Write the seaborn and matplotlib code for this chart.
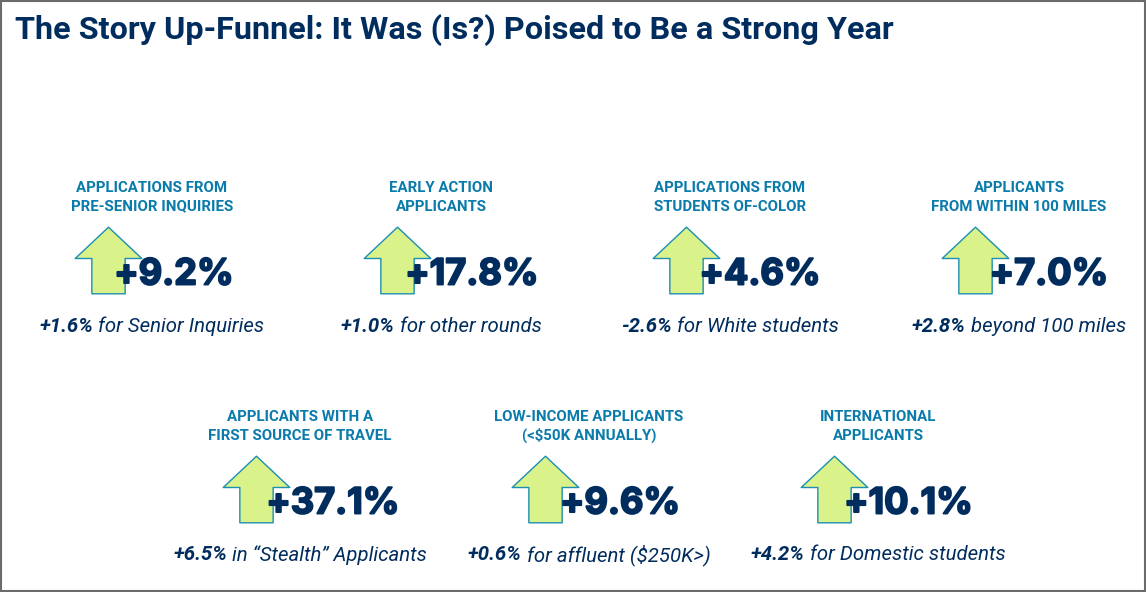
import matplotlib.patheffects as pe
import matplotlib.pyplot as plt
import pandas as pd
import seaborn as sns
from matplotlib.path import Path
from matplotlib.patches import Rectangle

TITLE = "The Story Up-Funnel: It Was (Is?) Poised to Be a Strong Year"

headers = [
    "APPLICATIONS FROM\nPRE-SENIOR INQUIRIES",
    "EARLY ACTION\nAPPLICANTS",
    "APPLICATIONS FROM\nSTUDENTS OF-COLOR",
    "APPLICANTS\nFROM WITHIN 100 MILES",
    "APPLICANTS WITH A\nFIRST SOURCE OF TRAVEL",
    "LOW-INCOME APPLICANTS\n(<$50K ANNUALLY)",
    "INTERNATIONAL\nAPPLICANTS",
]
changes = ["+9.2%", "+17.8%", "+4.6%", "+7.0%", "+37.1%", "+9.6%", "+10.1%"]
compare_values = ["+1.6%", "+1.0%", "-2.6%", "+2.8%", "+6.5%", "+0.6%", "+4.2%"]
compare_labels = [
    "for Senior Inquiries",
    "for other rounds",
    "for White students",
    "beyond 100 miles",
    "in \u201cStealth\u201d Applicants",
    "for affluent ($250K>)",
    "for Domestic students",
]

NAVY = "#012d5e"
BLUE = "#0a7bab"
LIME = "#d9f28a"
EDGE = "#1c8fb3"

# card layout, in pixels of the 1146x592 canvas
row_of_card = [0, 0, 0, 0, 1, 1, 1]
col_of_card = [0, 1, 2, 3, 0, 1, 2]
change_offset = [22, 31, 30, 30, 33, 31, 30.5]
ARROW = Path(
    [(0, 1), (1, 0.06), (0.5, 0.06), (0.5, -1), (-0.5, -1), (-0.5, 0.06), (-1, 0.06), (0, 1)],
    closed=True,
)

cards = pd.DataFrame({"row": row_of_card, "col": col_of_card, "change": changes})
cards["center"] = 152 + 289 * cards["col"] + 148 * cards["row"]
cards["top"] = 187 + 229 * cards["row"]
cards["arrow_x"] = cards["center"] - 44.5
cards["arrow_y"] = cards["top"] + 73

sns.set_theme(style="white")
plt.rcParams["font.family"] = ["Roboto", "DejaVu Sans"]

fig, ax = plt.subplots(figsize=(11.46, 5.92), dpi=100)
ax.set_position([0, 0, 1, 1])

sns.scatterplot(
    data=cards,
    x="arrow_x",
    y="arrow_y",
    marker=ARROW,
    s=2300,
    color=LIME,
    edgecolor=EDGE,
    linewidth=1,
    legend=False,
    ax=ax,
    zorder=2,
)
ax.set_xlim(0, 1146)
ax.set_ylim(592, 0)
ax.axis("off")

ax.add_patch(Rectangle((1, 1), 1144, 590, fill=False, edgecolor="#6b6b6b", linewidth=1.5))
ax.text(15, 30, TITLE, color=NAVY, fontsize=23.3, fontweight="bold", va="center", ha="left")

renderer = fig.canvas.get_renderer()
for i, card in cards.iterrows():
    ax.text(card["center"], card["top"] + 10.5, headers[i], color=BLUE, fontsize=10.8,
            fontweight="bold", ha="center", va="center", linespacing=1.38)

    big = ax.text(card["center"] + change_offset[i], card["top"] + 88, card["change"], color=NAVY,
                  fontsize=26, fontweight="bold", ha="center", va="center", zorder=3,
                  family=["Inter", "Roboto"])
    big.set_path_effects([pe.withStroke(linewidth=1.4, foreground=NAVY)])

    # bold number + lighter remark, centred together under the header
    head = ax.text(0, card["top"] + 139, compare_values[i], color=NAVY, fontsize=14.7,
                   fontweight="bold", style="italic", ha="left", va="center")
    tail = ax.text(0, card["top"] + 139, compare_labels[i], color=NAVY, fontsize=14.7,
                   fontweight="normal", style="italic", ha="left", va="center")
    head_w = head.get_window_extent(renderer).width
    tail_w = tail.get_window_extent(renderer).width
    gap = 5
    left = card["center"] - (head_w + gap + tail_w) / 2
    head.set_x(left)
    tail.set_x(left + head_w + gap)

fig.savefig("out.png", dpi=100)
plt.close(fig)
